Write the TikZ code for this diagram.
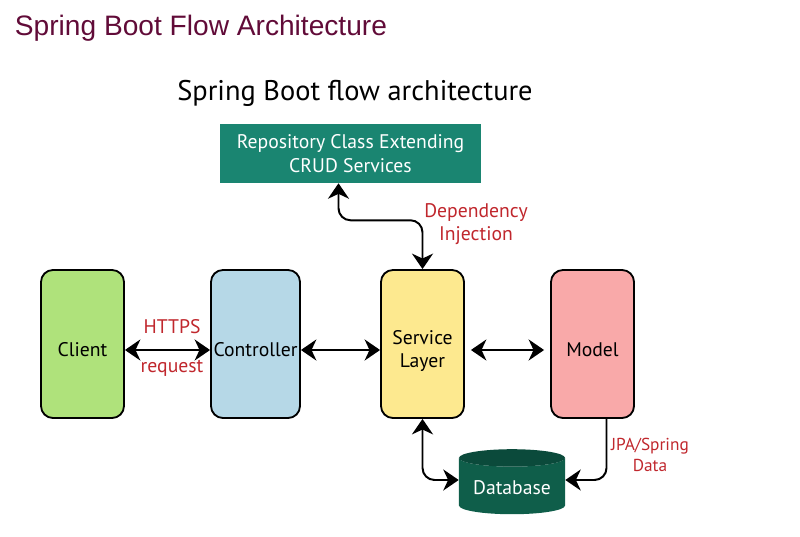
\documentclass[tikz,border=0pt]{standalone}
\usepackage{fontspec}
\setmainfont{PT Sans}
\newfontfamily\pagefont{Liberation Sans}
\usetikzlibrary{arrows.meta, shapes.geometric}

\definecolor{pagetitle}{HTML}{610B38}
\definecolor{notered}{HTML}{C0272D}
\definecolor{repogreen}{HTML}{1A8571}
\definecolor{dbbody}{HTML}{0F5E4A}
\definecolor{dbtop}{HTML}{0B4A3B}
\definecolor{clientfill}{HTML}{AFE27B}
\definecolor{ctrlfill}{HTML}{B6D8E7}
\definecolor{srvfill}{HTML}{FDE98F}
\definecolor{modelfill}{HTML}{F9A9A9}

\tikzset{
	layer/.style={draw, line width=1.3pt, rounded corners=0.3cm, minimum width=2.075cm,
		minimum height=3.7cm, inner sep=0pt, align=center,
		font=\fontsize{14}{17}\selectfont, text height=18.3pt, text depth=0pt},
	link/.style={line width=1.4pt, {Stealth[length=11pt,width=15pt,inset=3.5pt]}-{Stealth[length=11pt,width=15pt,inset=3.5pt]}},
	feed/.style={line width=1.4pt, -{Stealth[length=11pt,width=15pt,inset=3.5pt]}},
	note/.style={text=notered, align=center, font=\fontsize{14}{16.5}\selectfont}
}

\begin{document}
\begin{tikzpicture}[x=0.025cm, y=-0.025cm]
	\useasboundingbox (0,0) rectangle (800,537);

	%titles
	\node[anchor=west, text=pagetitle, font=\pagefont\fontsize{20}{22}\selectfont] (pagetitle) at (10,28) {Spring Boot Flow Architecture};
	\node[font=\fontsize{20.2}{22}\selectfont] (figtitle) at (355,93) {Spring Boot flow architecture};

	%repository
	\node[fill=repogreen, text=white, minimum width=6.525cm, minimum height=1.475cm, align=center,
		font=\fontsize{14}{17}\selectfont] (repo) at (350.5,153.5) {Repository Class Extending\\CRUD Services};

	%layers
	\node[layer, fill=clientfill] (client) at (82.5,344) {Client};
	\node[layer, fill=ctrlfill, minimum width=2.225cm] (ctrl) at (255.5,344) {Controller};
	\node[layer, fill=srvfill, text height=34pt] (srv) at (422.5,344) {Service\\Layer};
	\node[layer, fill=modelfill] (model) at (592.5,344) {Model};

	%database
	\node[cylinder, shape border rotate=90, aspect=0.2, minimum width=2.65cm, minimum height=1.625cm,
		cylinder uses custom fill, cylinder body fill=dbbody, cylinder end fill=dbtop,
		text=white, font=\fontsize{14}{17}\selectfont] (db) at (512,488) {Database};

	%arrows
	\draw[link] ([yshift=-0.15cm]client.east) -- ([yshift=-0.15cm]ctrl.west);
	\draw[link] ([yshift=-0.15cm]ctrl.east) -- ([yshift=-0.15cm]srv.west);
	\draw[link] ([xshift=0.15cm,yshift=-0.15cm]srv.east) -- ([xshift=-0.15cm,yshift=-0.15cm]model.west);
	\draw[link, rounded corners=0.3cm] ([xshift=-0.3cm]repo.south) -- ++(0,37) -| (srv.north);
	\draw[link, rounded corners=0.3cm] (srv.south) |- ([yshift=0.2cm]db.west);
	\draw[feed, rounded corners=0.3cm] ([xshift=0.35cm]model.south) |- ([yshift=0.2cm]db.east);

	%labels
	\node[note] (https) at (172,327) {HTTPS};
	\node[note] (request) at (172,368) {request};
	\node[note] (inject) at (476,224) {Dependency\\Injection};
	\node[note, font=\fontsize{12.3}{14.9}\selectfont] (jpa) at (650,455) {JPA/Spring\\Data};
\end{tikzpicture}
\end{document}
